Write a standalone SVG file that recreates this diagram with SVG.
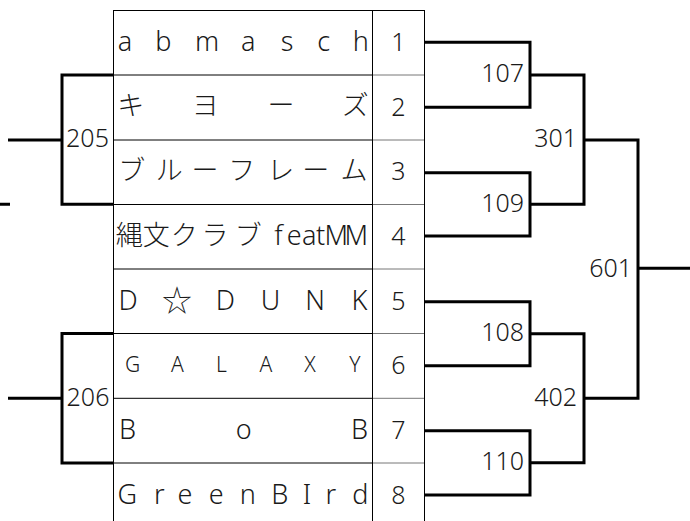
<svg xmlns="http://www.w3.org/2000/svg" width="690" height="521" viewBox="0 0 690 521">
<style>
text{font-family:"Noto Sans","Noto Sans CJK JP",sans-serif;fill:#1a1a1a;font-weight:300}
.nm{font-size:27px;text-anchor:middle}
.sm{font-size:21px;text-anchor:middle}
.st{font-size:30px}
.no{font-size:25px;text-anchor:middle}
.lb{font-size:25px;text-anchor:end}
.lc{font-size:25px;text-anchor:middle}
.grid{stroke:#000;stroke-width:1;fill:none}
.gridg{stroke:#777;stroke-width:1;fill:none}
.br{stroke:#000;stroke-width:3;fill:none;stroke-linejoin:miter;stroke-linecap:butt}
</style>
<rect width="690" height="521" fill="#fff"/>
<g id="table">
<path class="grid" d="M113.5,10.5H424.5M113.5,10V521M372.5,10V521M424.5,10V521"/>
<path class="grid" d="M113,75H373M113,140H373M113,204.5H373M113,269H373M113,333.5H373M113,398.3H373M113,463H373"/>
<path class="gridg" d="M373,75H424M373,140H424M373,204.5H424M373,269H424M373,333.5H424M373,398.3H424M373,463H424"/>
</g>
<g id="team1"><text class="nm" x="125 163.3 207 248.2 287.2 323.8 360.8" y="50.7">abmasch</text><text class="no" x="398.5" y="51">1</text></g>
<g id="team2"><text class="nm" x="130.8 205.3 281 355.3" y="115.4">キヨーズ</text><text class="no" x="398.5" y="115.5">2</text></g>
<g id="team3"><text class="nm" x="131.7 169.2 205 241.7 280.8 315.8 354" y="180.1">ブルーフレーム</text><text class="no" x="398.5" y="180.3">3</text></g>
<g id="team4"><text class="nm" x="129.2 156.3 184.2 215 248.3 278.5 294.2 309.2 320.5 336.2 356.2" y="245">縄文クラブfeatMM</text><text class="no" x="398.5" y="245">4</text></g>
<g id="team5"><text class="nm" y="309.7"><tspan x="128">D</tspan><tspan class="st" x="177" y="310.5">☆</tspan><tspan x="225.3 270.5 315 359.5" y="309.7">DUNK</tspan></text><text class="no" x="398.5" y="309.7">5</text></g>
<g id="team6"><text class="sm" x="132.7 177.3 221.3 265.8 310 355" y="372">GALAXY</text><text class="no" x="398.5" y="374.2">6</text></g>
<g id="team7"><text class="nm" x="127.5 243.8 359.5" y="438.5">BoB</text><text class="no" x="398.5" y="439">7</text></g>
<g id="team8"><text class="nm" x="127.2 159.2 185 216.3 247.8 279.7 307 330.8 360.3" y="503.5">GreenBIrd</text><text class="no" x="398.5" y="503.6">8</text></g>
<g id="connectors">
<path class="br" d="M425,42.3H530V107.3H425M530,75H584V204.3H530M425,172.7H530V236H425"/>
<path class="br" d="M425,301.7H530V365.7H425M530,333.7H584V462.8H530M425,430.7H530V495H425"/>
<path class="br" d="M584,140H638V398.3H584M638,268.3H690"/>
<path class="br" d="M113,75H62V204.3H113M8,140H62M0,204.3H10"/>
<path class="br" d="M113,333.5H62V463H113M8,398.3H62"/>
</g>
<g id="m107"><text class="lb" x="524" y="82">107</text></g>
<g id="m109"><text class="lb" x="524" y="212">109</text></g>
<g id="m108"><text class="lb" x="524" y="341">108</text></g>
<g id="m110"><text class="lb" x="524" y="470">110</text></g>
<g id="m301"><text class="lb" x="577" y="147">301</text></g>
<g id="m402"><text class="lb" x="577" y="406">402</text></g>
<g id="m601"><text class="lb" x="632" y="277">601</text></g>
<g id="m205"><text class="lc" x="87.5" y="147">205</text></g>
<g id="m206"><text class="lc" x="88" y="406">206</text></g>
</svg>
